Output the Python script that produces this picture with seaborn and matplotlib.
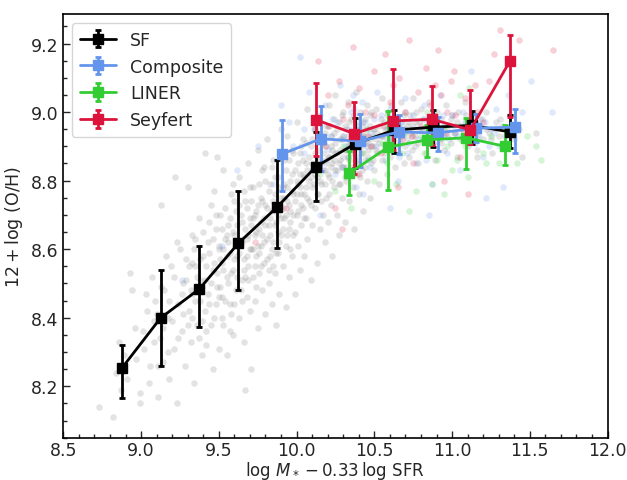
import matplotlib
matplotlib.use("Agg")
import matplotlib.pyplot as plt
import seaborn as sns
import pandas as pd
from matplotlib.ticker import MultipleLocator

# ---------------- binned medians ----------------
sf_x = [8.875, 9.125, 9.375, 9.625, 9.875, 10.125, 10.375, 10.625, 10.875, 11.125, 11.375]
sf_y = [8.252, 8.399, 8.484, 8.617, 8.723, 8.841, 8.907, 8.947, 8.956, 8.961, 8.942]
sf_lo = [0.086, 0.141, 0.112, 0.136, 0.120, 0.100, 0.070, 0.067, 0.058, 0.054, 0.046]
sf_hi = [0.067, 0.139, 0.125, 0.154, 0.136, 0.100, 0.075, 0.060, 0.050, 0.042, 0.049]

comp_x = [9.908, 10.157, 10.407, 10.658, 10.907, 11.157, 11.407]
comp_y = [8.878, 8.922, 8.915, 8.942, 8.939, 8.953, 8.956]
comp_top = [8.976, 9.017, 8.995, 8.990, 8.987, 8.993, 9.008]
comp_bot = [8.771, 8.827, 8.840, 8.877, 8.886, 8.912, 8.882]

liner_x = [10.34, 10.59, 10.84, 11.09, 11.34]
liner_y = [8.822, 8.898, 8.919, 8.925, 8.900]
liner_top = [8.885, 9.002, 8.961, 8.983, 8.961]
liner_bot = [8.757, 8.773, 8.869, 8.835, 8.847]

sey_x = [10.123, 10.371, 10.621, 10.870, 11.118, 11.371]
sey_y = [8.978, 8.937, 8.974, 8.979, 8.948, 9.148]
sey_top = [9.085, 9.029, 9.125, 9.076, 9.063, 9.224]
sey_bot = [8.871, 8.820, 8.890, 8.903, 8.907, 8.985]

# ---------------- individual galaxies (read approximately) ----------------
sf_cloud = [
    (8.73,8.14),(8.82,8.11),(8.84,8.24),(8.87,8.19),(8.89,8.29),(8.86,8.33),
    (8.93,8.53),(8.94,8.48),(8.91,8.22),(8.96,8.37),(8.99,8.18),(8.99,8.15),(9.02,8.31),(9.04,8.42),(9.06,8.26),(9.08,8.39),(8.97,8.28),(9.09,8.45),
    (9.11,8.17),(9.12,8.34),(9.13,8.73),(9.14,8.27),(9.15,8.48),(9.17,8.40),(9.18,8.22),(9.19,8.55),(9.21,8.31),(9.22,8.81),(9.23,8.15),(9.24,8.44),(9.25,8.60),(9.26,8.36),(9.27,8.50),(9.28,8.26),(9.29,8.57),(9.30,8.78),
    (9.31,8.42),(9.32,8.33),(9.33,8.64),(9.33,8.47),(9.34,8.21),(9.35,8.55),(9.36,8.38),(9.37,8.69),(9.38,8.45),(9.39,8.29),(9.40,8.58),(9.41,8.88),(9.41,8.51),(9.42,8.36),(9.43,8.62),(9.44,8.44),(9.45,8.73),(9.46,8.25),(9.46,8.54),(9.47,8.40),(9.48,8.66),(9.49,8.87),(9.49,8.49),(9.50,8.31),(9.50,8.60),
    (9.51,8.70),(9.52,8.46),(9.52,8.56),(9.53,8.83),(9.53,8.38),(9.54,8.63),(9.55,8.52),(9.55,8.29),(9.56,8.67),(9.57,8.44),(9.57,8.59),(9.58,8.76),(9.59,8.35),(9.59,8.54),(9.60,8.64),(9.61,8.48),(9.61,8.71),(9.62,8.58),(9.63,8.40),(9.63,8.81),(9.64,8.62),(9.65,8.51),(9.65,8.68),(9.66,8.33),(9.66,8.57),(9.67,8.19),(9.67,8.74),(9.68,8.46),(9.68,8.63),(9.69,8.55),(9.69,8.85),(9.70,8.42),(9.70,8.69),(9.71,8.25),(9.71,8.60),
    (9.72,8.52),(9.72,8.78),(9.73,8.64),(9.73,8.45),(9.74,8.71),(9.74,8.58),(9.75,8.89),(9.75,8.37),(9.76,8.66),(9.76,8.53),(9.77,8.75),(9.77,8.61),(9.78,8.48),(9.78,8.83),(9.79,8.69),(9.79,8.56),(9.80,8.41),(9.80,8.73),(9.81,8.63),(9.81,8.92),(9.82,8.50),(9.82,8.67),(9.83,8.79),(9.83,8.58),(9.84,8.44),(9.84,8.71),(9.85,8.86),(9.85,8.62),(9.86,8.53),(9.86,8.76),(9.87,8.38),(9.87,8.68),(9.88,8.81),(9.88,8.59),(9.89,8.72),(9.89,8.47),(9.90,8.64),(9.90,8.95),(9.91,8.55),(9.91,8.78),
    (9.92,8.69),(9.92,8.86),(9.93,8.61),(9.93,8.43),(9.94,8.74),(9.94,8.93),(9.95,8.66),(9.95,8.52),(9.96,8.80),(9.96,8.71),(9.97,8.58),(9.97,8.89),(9.98,8.76),(9.98,8.64),(9.99,8.47),(9.99,8.83),(10.00,8.70),(10.00,8.97),(10.01,8.61),(10.01,8.79),(10.02,8.88),(10.02,8.54),(10.03,8.73),(10.03,8.67),(10.04,8.92),(10.04,8.82),(10.05,8.58),(10.05,8.76),(10.06,8.85),(10.06,8.69),(10.07,9.01),(10.07,8.63),(10.08,8.80),(10.08,8.74),(10.09,8.51),(10.09,8.90),(10.10,8.78),(10.10,8.67),(10.11,8.95),(10.11,8.84),
    (10.12,8.72),(10.12,8.88),(10.13,8.56),(10.13,8.81),(10.14,8.93),(10.14,8.76),(10.15,8.66),(10.15,8.99),(10.16,8.85),(10.16,8.79),(10.17,8.70),(10.17,8.91),(10.18,8.62),(10.18,8.83),(10.19,8.96),(10.19,8.75),(10.20,8.87),(10.20,8.68),(10.21,9.02),(10.21,8.81),(10.22,8.90),(10.22,8.73),(10.23,8.58),(10.23,8.85),(10.24,8.94),(10.24,8.78),(10.25,8.88),(10.25,9.05),(10.26,8.70),(10.26,8.83),(10.27,8.97),(10.27,8.64),(10.28,8.86),(10.28,8.79),(10.29,8.92),(10.29,8.75),(10.30,9.00),(10.30,8.84),(10.31,8.89),(10.31,8.68),
    (10.32,8.80),(10.32,8.95),(10.33,8.87),(10.33,9.03),(10.34,8.74),(10.34,8.91),(10.35,8.84),(10.35,8.98),(10.36,8.78),(10.36,8.89),(10.37,8.93),(10.37,8.66),(10.38,9.06),(10.38,8.86),(10.39,8.82),(10.39,8.96),(10.40,8.90),(10.40,8.76),(10.41,9.00),(10.41,8.88),(10.42,8.94),(10.42,8.83),(10.43,8.71),(10.43,8.97),(10.44,8.91),(10.44,8.86),(10.45,9.02),(10.45,8.80),(10.46,8.93),(10.46,8.89),(10.47,8.99),(10.47,8.75),(10.48,8.85),(10.49,8.95),(10.49,8.90),
    (10.50,8.83),(10.51,9.01),(10.51,8.92),(10.52,8.88),(10.53,8.96),(10.53,8.79),(10.54,8.93),(10.55,9.04),(10.55,8.86),(10.56,8.97),(10.57,8.90),(10.58,8.82),(10.58,8.99),(10.59,8.94),(10.60,8.87),(10.61,9.02),(10.61,8.92),(10.62,8.96),(10.63,8.84),(10.64,8.98),(10.64,8.91),(10.65,8.95),(10.66,8.88),(10.67,9.03),(10.67,8.93),(10.68,8.97),(10.69,8.85),(10.69,8.94),(10.70,9.00),(10.70,8.90),
    (10.71,8.96),(10.72,8.87),(10.73,8.99),(10.74,8.93),(10.75,9.04),(10.76,8.90),(10.77,8.97),(10.78,8.85),(10.79,8.95),(10.80,9.01),(10.81,8.92),(10.82,8.98),(10.83,8.88),(10.84,8.94),(10.85,9.03),(10.86,8.96),(10.87,8.91),(10.88,8.99),(10.89,8.86),(10.90,8.94),(10.90,9.00),(10.89,8.97),
    (10.92,8.92),(10.93,8.98),(10.95,8.89),(10.96,9.02),(10.97,8.95),(10.99,8.91),(11.00,8.99),(11.02,8.94),(11.03,8.87),(11.04,9.00),(11.06,8.96),(11.07,8.92),(11.08,9.03),(11.09,8.97),(11.10,8.90),(11.10,8.95),
    (11.12,8.93),(11.14,8.99),(11.16,8.89),(11.18,8.96),(11.20,8.92),(11.22,9.00),(11.24,8.94),(11.26,8.88),(11.28,8.97),(11.30,8.93),
    (11.32,8.96),(11.35,8.90),(11.37,8.99),(11.40,8.92),(11.43,8.95),(11.45,8.87),(11.54,8.94),(11.16,8.87),
]
sf_cloud_core = [
    (9.01,8.36),(9.03,8.47),(9.05,8.21),(9.07,8.52),(9.08,8.33),(9.10,8.41),(9.11,8.26),(9.13,8.49),(9.14,8.37),(9.16,8.58),(9.17,8.30),(9.18,8.45),(9.20,8.39),(9.21,8.52),(9.23,8.62),(9.24,8.34),(9.26,8.47),(9.27,8.41),(9.29,8.51),(9.30,8.38),
    (9.31,8.55),(9.32,8.48),(9.33,8.40),(9.34,8.60),(9.35,8.45),(9.36,8.52),(9.37,8.34),(9.38,8.57),(9.39,8.49),(9.40,8.65),(9.41,8.42),(9.42,8.55),(9.43,8.47),(9.44,8.59),(9.45,8.38),(9.45,8.50),(9.46,8.63),(9.47,8.56),(9.48,8.44),(9.48,8.70),(9.49,8.53),(9.50,8.61),(9.50,8.46),(9.44,8.68),(9.39,8.39),(9.35,8.63),(9.42,8.32),(9.47,8.77),(9.33,8.56),(9.38,8.51),
    (9.51,8.57),(9.51,8.49),(9.52,8.66),(9.53,8.54),(9.53,8.60),(9.54,8.45),(9.54,8.72),(9.55,8.58),(9.56,8.50),(9.56,8.62),(9.57,8.69),(9.58,8.53),(9.58,8.41),(9.59,8.65),(9.60,8.57),(9.60,8.74),(9.61,8.61),(9.62,8.52),(9.62,8.67),(9.63,8.59),(9.64,8.70),(9.64,8.48),(9.65,8.62),(9.66,8.77),(9.66,8.54),(9.67,8.66),(9.68,8.58),(9.68,8.72),(9.69,8.51),(9.69,8.64),(9.70,8.60),(9.70,8.78),(9.55,8.64),(9.57,8.36),(9.60,8.44),(9.63,8.73),(9.65,8.45),(9.67,8.52),(9.52,8.40),(9.59,8.79),
    (9.71,8.67),(9.71,8.74),(9.72,8.60),(9.73,8.70),(9.73,8.55),(9.74,8.65),(9.75,8.73),(9.75,8.61),(9.76,8.79),(9.77,8.68),(9.77,8.55),(9.78,8.64),(9.78,8.74),(9.79,8.62),(9.80,8.80),(9.80,8.67),(9.81,8.57),(9.81,8.72),(9.82,8.77),(9.83,8.64),(9.83,8.69),(9.84,8.84),(9.84,8.60),(9.85,8.74),(9.86,8.67),(9.86,8.81),(9.87,8.72),(9.87,8.59),(9.88,8.70),(9.88,8.65),(9.89,8.78),(9.89,8.62),(9.90,8.75),(9.90,8.69),(9.74,8.49),(9.79,8.84),(9.82,8.54),(9.85,8.55),(9.76,8.59),(9.72,8.69),
    (9.91,8.72),(9.91,8.66),(9.92,8.79),(9.92,8.75),(9.93,8.70),(9.93,8.83),(9.94,8.64),(9.94,8.78),(9.95,8.86),(9.95,8.73),(9.96,8.68),(9.96,8.60),(9.97,8.77),(9.97,8.82),(9.98,8.70),(9.98,8.88),(9.99,8.74),(9.99,8.65),(10.00,8.80),(10.00,8.76),(10.01,8.85),(10.01,8.71),(10.02,8.78),(10.02,8.82),(10.03,8.90),(10.03,8.76),(10.04,8.72),(10.04,8.86),(10.05,8.81),(10.05,8.69),(10.06,8.78),(10.06,8.91),(10.07,8.83),(10.07,8.75),(10.08,8.87),(10.09,8.81),(10.09,8.73),(10.10,8.85),(10.10,8.92),(10.11,8.79),
    (10.12,8.82),(10.12,8.95),(10.13,8.87),(10.13,8.76),(10.14,8.84),(10.14,8.89),(10.15,8.80),(10.15,8.91),(10.16,8.86),(10.16,8.74),(10.17,8.83),(10.17,8.88),(10.18,8.94),(10.18,8.79),(10.19,8.85),(10.19,8.90),(10.20,8.82),(10.20,8.96),(10.21,8.87),(10.21,8.76),(10.22,8.84),(10.22,8.93),(10.23,8.89),(10.23,8.80),(10.24,8.86),(10.24,8.98),(10.25,8.83),(10.25,8.91),(10.26,8.88),(10.26,8.95),(10.27,8.85),(10.27,8.79),(10.28,8.92),(10.28,8.89),(10.29,8.84),(10.29,8.99),(10.30,8.87),(10.30,8.93),(10.31,8.81),(10.31,8.96),
    (10.32,8.89),(10.32,8.84),(10.33,8.93),(10.33,8.90),(10.34,8.86),(10.34,8.97),(10.35,8.91),(10.35,8.88),(10.36,8.94),(10.36,8.83),(10.37,8.89),(10.37,8.99),(10.38,8.92),(10.38,8.87),(10.39,8.95),(10.39,8.90),(10.40,8.85),(10.40,8.97),(10.41,8.93),(10.41,8.81),(10.42,8.90),(10.42,8.96),(10.43,8.88),(10.43,8.93),(10.44,8.98),(10.44,8.84),(10.45,8.91),(10.45,8.95),(10.46,8.87),(10.47,8.92),(10.47,8.96),(10.48,8.90),(10.48,9.00),(10.49,8.86),(10.49,8.93),
    (10.50,8.95),(10.51,8.89),(10.52,8.94),(10.53,8.91),(10.54,8.98),(10.55,8.93),(10.56,8.88),(10.57,8.95),(10.58,8.92),(10.59,9.00),(10.60,8.94),(10.61,8.89),(10.62,8.92),(10.63,8.97),(10.64,8.94),(10.65,8.90),(10.66,8.96),(10.67,8.91),(10.68,8.93),(10.69,8.99),(10.70,8.95),(10.71,8.92),(10.72,8.97),(10.73,8.94),(10.74,8.89),(10.75,8.96),(10.76,8.93),(10.77,9.00),(10.78,8.91),(10.79,8.97),
    (10.81,8.95),(10.83,8.92),(10.85,8.97),(10.87,8.94),(10.89,8.99),(10.91,8.95),(10.93,8.91),(10.95,8.96),(10.97,8.93),(10.99,8.98),(11.01,8.94),(11.03,8.97),(11.05,8.92),(11.07,8.95),(11.09,8.99),(11.11,8.94),(11.13,8.96),(11.16,8.93),(11.19,8.98),(11.22,8.95),(11.25,8.92),(11.28,8.95),(11.31,8.98),(11.34,8.93),(11.38,8.96),
]
comp_cloud = [
    (9.26,8.51),(9.52,8.61),(9.62,8.83),(9.75,8.90),(9.85,8.79),(9.95,8.97),(10.02,9.16),(10.05,8.88),(10.08,9.06),(10.12,8.95),
    (10.15,8.70),(10.18,9.02),(10.20,8.89),(10.23,8.98),(10.25,8.82),(10.28,9.08),(10.30,8.93),(10.33,8.87),(10.35,9.00),(10.38,8.78),
    (10.40,8.95),(10.42,9.03),(10.45,8.90),(10.47,8.84),(10.50,8.98),(10.52,9.06),(10.55,8.93),(10.57,8.86),(10.60,9.01),(10.62,8.95),
    (10.65,8.80),(10.67,8.97),(10.70,9.04),(10.72,8.91),(10.75,8.99),(10.77,8.85),(10.80,8.95),(10.82,9.02),(10.85,8.92),(10.87,8.79),
    (10.90,8.97),(10.92,9.05),(10.95,8.93),(10.97,8.88),(11.00,8.99),(11.02,8.94),(11.05,8.83),(11.07,9.00),(11.10,8.96),(11.12,9.12),
    (11.15,8.91),(11.18,8.98),(11.20,8.87),(11.22,8.75),(11.25,8.95),(11.28,9.01),(11.30,8.90),(11.33,8.78),(11.36,9.05),(11.40,8.93),
    (11.45,9.00),(11.51,9.09),(11.64,9.00),(10.43,8.76),(10.10,8.83),(9.90,9.02),(10.60,8.72),(10.85,8.70),
    (10.22,8.93),(10.26,8.97),(10.31,8.90),(10.34,8.95),(10.37,9.01),(10.41,8.92),(10.44,8.97),(10.48,8.94),(10.51,8.90),(10.54,8.99),
    (10.58,8.95),(10.61,8.92),(10.64,8.98),(10.68,8.94),(10.71,8.88),(10.74,8.95),(10.78,8.92),(10.81,8.98),(10.84,8.95),(10.88,8.91),
    (10.91,8.94),(10.94,8.99),(10.98,8.92),(11.01,8.96),(11.04,8.93),(11.08,8.97),(11.11,8.91),(11.14,8.95),(11.17,8.93),(11.21,8.97),
    (11.24,8.90),(11.27,8.94),(10.19,8.86),(10.29,8.84),(10.46,8.86),(10.66,8.87),(10.83,8.86),(10.05,8.95),(9.98,8.90),(10.36,9.05),
]
sey_cloud = [
    (9.73,8.62),(9.93,8.72),(10.14,9.15),(10.25,8.72),(10.29,8.66),(10.36,9.19),(10.20,9.05),(10.30,8.98),(10.40,9.07),(10.45,8.93),
    (10.50,9.12),(10.54,8.88),(10.57,9.17),(10.60,9.03),(10.63,8.95),(10.66,9.10),(10.70,9.00),(10.72,9.21),(10.75,8.85),(10.78,9.06),
    (10.80,8.96),(10.83,9.13),(10.86,9.02),(10.88,8.91),(10.91,9.18),(10.93,9.05),(10.96,8.94),(10.99,9.09),(11.02,8.99),(11.05,8.87),
    (11.08,9.04),(11.12,8.93),(11.15,9.08),(11.20,8.97),(11.24,9.09),(11.27,9.17),(11.31,9.24),(11.43,9.21),(11.65,9.18),(10.40,8.82),
    (10.65,8.78),(10.95,8.80),(11.10,8.76),(10.18,8.90),(10.50,8.99),
    (10.21,8.96),(10.33,9.02),(10.44,9.00),(10.56,8.96),(10.62,9.08),(10.74,8.93),(10.85,8.97),(10.97,9.00),(11.06,8.95),(11.16,9.00),
    (10.27,9.09),(10.68,8.92),(10.89,9.08),(11.01,9.12),(10.48,8.90),
]
liner_cloud = [
    (10.15,8.82),(10.25,8.77),(10.30,8.90),(10.38,8.85),(10.45,8.95),(10.50,8.80),(10.55,8.91),(10.60,8.98),(10.64,8.79),(10.68,8.88),
    (10.72,8.71),(10.77,8.77),(10.80,8.93),(10.84,9.00),(10.87,8.79),(10.90,8.86),(10.95,8.95),(11.00,8.83),(11.05,9.05),(11.08,8.90),
    (11.11,9.07),(11.10,8.81),(11.15,8.96),(11.20,8.88),(11.25,8.93),(11.30,8.85),(11.42,8.85),(11.48,8.93),(11.54,8.90),(11.57,8.86),
    (10.35,8.72),(10.95,8.76),
    (10.42,8.88),(10.58,8.85),(10.70,8.94),(10.82,8.88),(10.97,8.90),(11.12,8.93),(11.22,8.85),(10.62,8.92),(10.88,8.97),(11.03,8.86),
]

labels = ["SF", "Composite", "LINER", "Seyfert"]
colors = ["black", "cornflowerblue", "limegreen", "crimson"]
cloud_colors = ["grey", "cornflowerblue", "limegreen", "crimson"]

sns.set_style("white")
plt.rcParams["font.family"] = ["DejaVu Sans"]
plt.rcParams["mathtext.fontset"] = "dejavusans"

fig = plt.figure(figsize=(6.27, 4.81), dpi=100)
ax = fig.add_axes([0.101, 0.088, 0.868, 0.880])

clouds = [sf_cloud + sf_cloud_core, comp_cloud, liner_cloud, sey_cloud]
for cl, col, a in zip(clouds, cloud_colors, [0.22, 0.2, 0.2, 0.2]):
    df = pd.DataFrame(cl, columns=["x", "y"])
    sns.scatterplot(data=df, x="x", y="y", color=col, alpha=a, s=22,
                    linewidth=0, ax=ax, zorder=1)

series = [
    (sf_x, sf_y, [sf_lo, sf_hi]),
    (comp_x, comp_y, [[y - b for y, b in zip(comp_y, comp_bot)], [t - y for y, t in zip(comp_y, comp_top)]]),
    (liner_x, liner_y, [[y - b for y, b in zip(liner_y, liner_bot)], [t - y for y, t in zip(liner_y, liner_top)]]),
    (sey_x, sey_y, [[y - b for y, b in zip(sey_y, sey_bot)], [t - y for y, t in zip(sey_y, sey_top)]]),
]
for (x, y, err), lab, col in zip(series, labels, colors):
    ax.errorbar(x, y, yerr=err, color=col, marker="s", ms=7.5, lw=2,
                elinewidth=2, capsize=2.5, capthick=2, label=lab, zorder=3)

ax.set_xlim(8.5, 12.0)
ax.set_ylim(8.05, 9.285)
ax.xaxis.set_major_locator(MultipleLocator(0.5))
ax.xaxis.set_minor_locator(MultipleLocator(0.1))
ax.yaxis.set_major_locator(MultipleLocator(0.2))
ax.yaxis.set_minor_locator(MultipleLocator(0.05))
ax.tick_params(which="both", direction="in", top=False, right=False,
               bottom=True, left=True, labelsize=12.5)
ax.tick_params(which="major", length=5, width=1)
ax.tick_params(which="minor", length=3, width=1)
ax.tick_params(axis="x", which="major", pad=2.5)
for sp in ax.spines.values():
    sp.set_color("black")
    sp.set_linewidth(1.2)

ax.set_xlabel(r"$\log\,M_* - 0.33\,\log\,\mathrm{SFR}$", fontsize=12, labelpad=0)
ax.set_ylabel(r"$12 + \log\,\mathrm{(O/H)}$", fontsize=12.5)

ax.legend(loc="upper left", fontsize=12.5, frameon=True, handlelength=2.1,
          borderpad=0.45, labelspacing=0.5)

fig.savefig("out.png", dpi=100)
